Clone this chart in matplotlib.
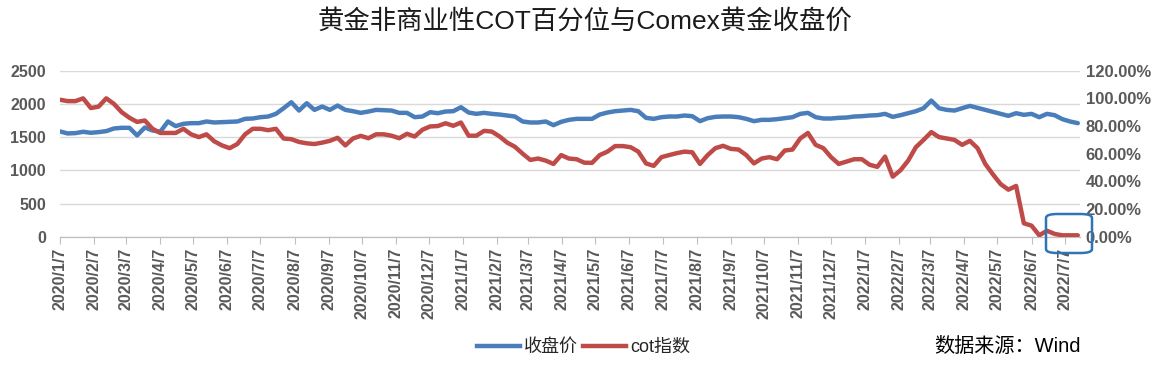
import matplotlib
matplotlib.use("Agg")
import matplotlib.pyplot as plt
from matplotlib.patches import FancyBboxPatch
import pandas as pd
import numpy as np

plt.rcParams['font.family'] = ['Liberation Sans', 'Noto Sans CJK SC', 'DejaVu Sans']

# weekly data, first week 2020/1/7
start_date = "2020-01-07"

close_price = [
    1585, 1555, 1560, 1580, 1565, 1575, 1590, 1630, 1640, 1640, 1525, 1645, 1600, 1580,
    1735, 1665, 1700, 1710, 1710, 1735, 1720, 1725, 1730, 1735, 1775, 1780, 1800,
    1810, 1850, 1935, 2025, 1900, 2010, 1910, 1960, 1910, 1975, 1910, 1890, 1865, 1885,
    1910, 1905, 1900, 1865, 1865, 1800, 1810, 1875, 1860, 1885, 1890, 1950,
    1870, 1850, 1865, 1850, 1840, 1825, 1810, 1735, 1720, 1720, 1735, 1680, 1730, 1760,
    1775, 1775, 1775, 1840, 1870, 1890, 1900, 1910, 1890, 1790, 1775, 1800, 1810,
    1810, 1825, 1815, 1740, 1785, 1805, 1810, 1810, 1800, 1775, 1740, 1760, 1760, 1770,
    1785, 1800, 1850, 1865, 1800, 1780, 1780, 1790, 1795, 1810, 1815, 1825,
    1830, 1850, 1805, 1830, 1860, 1890, 1935, 2050, 1935, 1910, 1900, 1935, 1970, 1940,
    1910, 1880, 1850, 1820, 1860, 1835, 1850, 1800, 1850, 1830, 1770, 1735, 1710,
]

cot_index = [
    99, 98, 98, 100, 93, 94, 100, 96, 90, 86, 83, 84, 78, 75, 75, 75, 78, 74, 72, 74,
    69, 66, 64, 67, 74, 78, 78,
    77, 78, 71, 70.5, 68.5, 67.5, 67, 68, 69.3, 71.5, 66, 71, 72.9, 71.2, 74, 74, 73,
    71.2, 74.4, 72.4, 77.3, 79.7, 80, 82, 80.2, 82.5,
    73, 73, 76.5, 76, 72.5, 68, 65, 60, 55.5, 56.5, 55, 52.6, 59, 56.5, 56, 53.5, 53.4,
    59, 61.5, 65.5, 65.5, 64.7, 61.5, 53, 51.2, 57.5, 59,
    60.4, 61.5, 61, 52.6, 59, 64, 65.7, 63.5, 63, 59, 53, 56.5, 57.5, 56, 62.3, 63, 71,
    75, 66.4, 64, 57.5, 52.6, 54.3, 56, 56, 52,
    50.5, 57.9, 43.4, 48, 55, 64.7, 70, 75.6, 72, 71, 70, 66.4, 69.3, 64, 52.6, 45, 38,
    34, 36.7, 9.7, 8, 1, 4.3, 2, 1, 1, 1,
]

dates = pd.date_range(start_date, periods=len(close_price), freq="7D")
tick_dates = pd.date_range("2020-01-07", "2022-07-07", freq=pd.DateOffset(months=1))
tick_labels = [f"{d.year}/{d.month}/{d.day}" for d in tick_dates]

left_ticks = [0, 500, 1000, 1500, 2000, 2500]
right_ticks = [0, 0.2, 0.4, 0.6, 0.8, 1.0, 1.2]

blue = "#4a7ebb"
red = "#be4b48"
grey_txt = "#595959"

fig = plt.figure(figsize=(11.62, 3.86), dpi=100)

ax = fig.add_axes([60 / 1162, 1 - 236.7 / 386, 1020 / 1162, 166 / 386])
ax2 = ax.twinx()

ax.plot(dates, close_price, color=blue, lw=3.2, solid_capstyle="round", zorder=3)
ax2.plot(dates, np.array(cot_index) / 100, color=red, lw=3.2, solid_capstyle="round", zorder=3)

ax.set_xlim(pd.Timestamp(start_date), pd.Timestamp(start_date) + pd.Timedelta(days=926))
ax.set_ylim(0, 2500)
ax2.set_ylim(0, 1.2)

ax.set_yticks(left_ticks)
ax.set_yticklabels([str(v) for v in left_ticks], fontsize=11.5, fontweight="bold", color=grey_txt)
ax2.set_yticks(right_ticks)
ax2.set_yticklabels([f"{v * 100:.2f}%" for v in right_ticks], fontsize=12,
                    fontweight="bold", color=grey_txt)

ax.set_xticks(tick_dates)
ax.set_xticklabels(tick_labels, rotation=90, fontsize=11.5, fontweight="bold", color=grey_txt)

ax.grid(axis="y", color="#d9d9d9", lw=1)
ax.set_axisbelow(True)
for a in (ax, ax2):
    for s in ("top", "left", "right"):
        a.spines[s].set_visible(False)
    a.spines["bottom"].set_color("#bfbfbf")
ax.tick_params(axis="y", length=0, pad=10)
ax2.tick_params(axis="y", length=0, pad=4)
ax.tick_params(axis="x", length=5, color="#bfbfbf", pad=3)

fig.text(0.503, 0.945, "黄金非商业性COT百分位与Comex黄金收盘价", fontsize=19,
         color="#1a1a1a", ha="center", va="center")

handles = [plt.Line2D([], [], color=blue, lw=3.2), plt.Line2D([], [], color=red, lw=3.2)]
fig.legend(handles, ["收盘价", "cot指数"], loc="center", bbox_to_anchor=(0.502, 0.1),
           ncol=2, frameon=False, fontsize=13, handlelength=2.4, columnspacing=0.3,
           handletextpad=0.2, labelcolor="#262626")

fig.text(0.804, 0.103, "数据来源：Wind", fontsize=14.5, color="black", ha="left", va="center")

box = FancyBboxPatch((1046 / 1162, 1 - 253 / 386), 46 / 1162, 39 / 386,
                     boxstyle="round,pad=0,rounding_size=0.01", transform=fig.transFigure,
                     fill=False, ec="#2e75b6", lw=1.8, zorder=10)
fig.add_artist(box)

fig.savefig("out.png", dpi=100)
